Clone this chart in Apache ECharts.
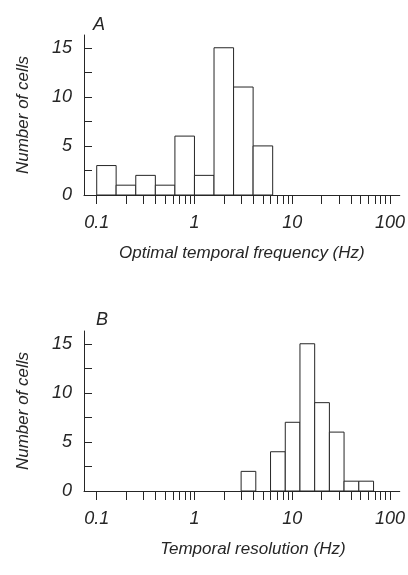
<!DOCTYPE html>
<html lang="en">
<head>
    <meta charset="UTF-8">
    <script src="https://cdn.jsdelivr.net/npm/echarts@6/dist/echarts.min.js"></script>
    <title>Temporal frequency histograms</title>
    <style>
        html, body { height: 100%; }
        * { padding: 0; margin: 0; }
        body { background: #fff; }
    </style>
</head>
<body>
    <div id="chart" style="width: 408px;height: 575px;"></div>
    <script>
        // bin edges (Hz) and counts
        var edgesA = [0.1, 0.158, 0.251, 0.398, 0.631, 1, 1.585, 2.512, 3.981, 6.31];
        var countsA = [3, 1, 2, 1, 6, 2, 15, 11, 5];
        var edgesB = [3, 4.24, 6, 8.49, 12, 16.97, 24, 33.9, 48, 67.9];
        var countsB = [2, 0, 4, 7, 15, 9, 6, 1, 1];

        // axis ticks
        var xTickHz = [0.1, 0.2, 0.3, 0.4, 0.5, 0.6, 0.7, 0.8, 0.9,
            1, 2, 3, 4, 5, 6, 7, 8, 9,
            10, 20, 30, 40, 50, 60, 70, 80, 90, 100];
        var xLabelHz = [0.1, 1, 10, 100];
        var yTicks = [0, 2.5, 5, 7.5, 10, 12.5, 15];
        var yLabels = [0, 5, 10, 15];

        var ink = '#262626';
        var font = 'Liberation Sans';

        function toBins(edges, counts) {
            var out = [];
            for (var i = 0; i < counts.length; i++) {
                if (counts[i] > 0) {
                    out.push([Math.log10(edges[i]), Math.log10(edges[i + 1]), counts[i]]);
                }
            }
            return out;
        }

        function renderBar(params, api) {
            var p0 = api.coord([api.value(0), api.value(2)]);
            var p1 = api.coord([api.value(1), 0]);
            return {
                type: 'rect',
                shape: { x: p0[0], y: p0[1], width: p1[0] - p0[0], height: p1[1] - p0[1] },
                style: { fill: '#fff', stroke: ink, lineWidth: 1 }
            };
        }

        function xAxisFor(idx, name, pad) {
            return {
                type: 'value',
                gridIndex: idx,
                min: -1.13,
                max: 2.1,
                name: name,
                nameLocation: 'middle',
                nameGap: 50,
                nameTextStyle: { color: ink, fontFamily: font, fontStyle: 'italic', fontSize: 17, padding: pad },
                axisLine: { onZero: false, lineStyle: { color: ink, width: 1 } },
                axisTick: {
                    customValues: xTickHz.map(function (v) { return Math.log10(v); }),
                    length: 9,
                    lineStyle: { color: ink }
                },
                axisLabel: {
                    customValues: xLabelHz.map(function (v) { return Math.log10(v); }),
                    margin: 19,
                    color: ink,
                    fontFamily: font,
                    fontStyle: 'italic',
                    fontSize: 18,
                    formatter: function (v) {
                        return String(Math.round(Math.pow(10, v) * 10) / 10);
                    }
                },
                splitLine: { show: false }
            };
        }

        function yAxisFor(idx) {
            return {
                type: 'value',
                gridIndex: idx,
                min: 0,
                max: 16.3,
                name: 'Number of cells',
                nameLocation: 'middle',
                nameGap: 52,
                nameTextStyle: { color: ink, fontFamily: font, fontStyle: 'italic', fontSize: 17 },
                axisLine: { show: true, onZero: false, lineStyle: { color: ink, width: 1 } },
                axisTick: {
                    show: true,
                    inside: true,
                    length: 8,
                    customValues: yTicks,
                    lineStyle: { color: ink }
                },
                axisLabel: {
                    customValues: yLabels,
                    margin: 12,
                    color: ink,
                    fontFamily: font,
                    fontStyle: 'italic',
                    fontSize: 18
                },
                splitLine: { show: false }
            };
        }

        var myChart = echarts.init(document.getElementById('chart'));
        var option = {
            backgroundColor: '#ffffff',
            animation: false,
            title: [
                { text: 'A', left: 88, top: 11, textStyle: { color: ink, fontFamily: font, fontStyle: 'italic', fontWeight: 'normal', fontSize: 18 } },
                { text: 'B', left: 91, top: 306, textStyle: { color: ink, fontFamily: font, fontStyle: 'italic', fontWeight: 'normal', fontSize: 18 } }
            ],
            grid: [
                { left: 84, right: 8, top: 35, height: 160 },
                { left: 84, right: 8, top: 331, height: 160 }
            ],
            xAxis: [
                xAxisFor(0, 'Optimal temporal frequency (Hz)', [0, 0, 0, 0]),
                xAxisFor(1, 'Temporal resolution (Hz)', [0, 0, 0, 22])
            ],
            yAxis: [yAxisFor(0), yAxisFor(1)],
            series: [
                {
                    type: 'custom',
                    xAxisIndex: 0,
                    yAxisIndex: 0,
                    renderItem: renderBar,
                    encode: { x: [0, 1], y: 2 },
                    data: toBins(edgesA, countsA)
                },
                {
                    type: 'custom',
                    xAxisIndex: 1,
                    yAxisIndex: 1,
                    renderItem: renderBar,
                    encode: { x: [0, 1], y: 2 },
                    data: toBins(edgesB, countsB)
                }
            ]
        };
        myChart.setOption(option);
    </script>
</body>
</html>
